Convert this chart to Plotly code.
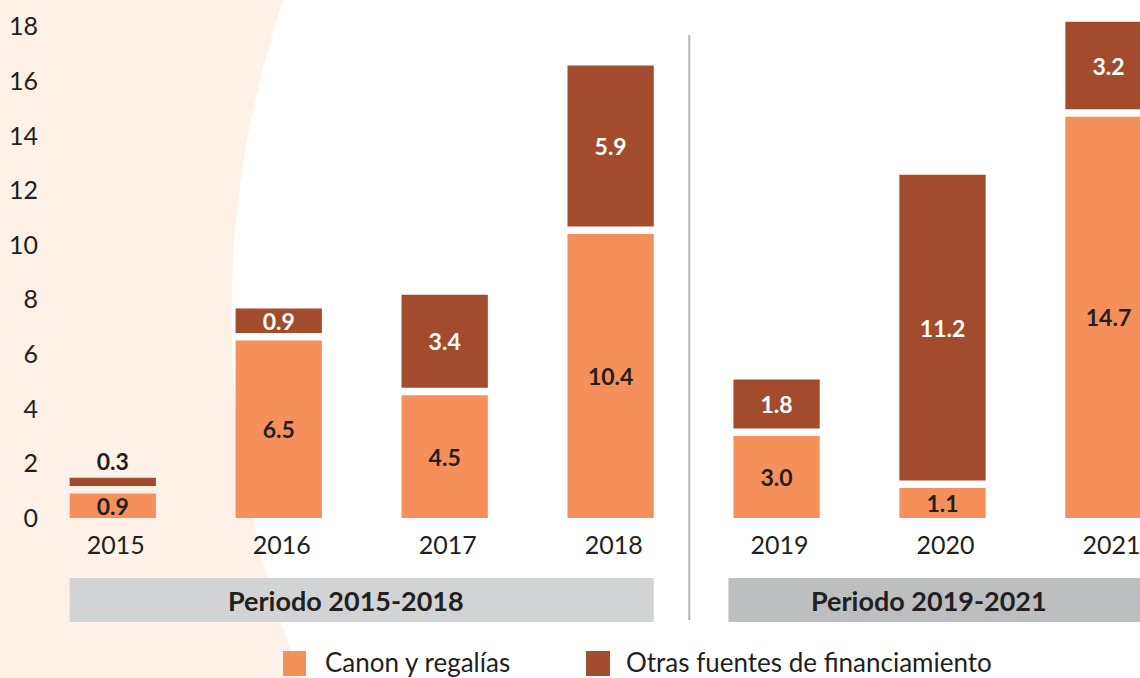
import plotly.graph_objects as go

# ---- data ----
years = ["2015", "2016", "2017", "2018", "2019", "2020", "2021"]
canon = [0.9, 6.5, 4.5, 10.4, 3.0, 1.1, 14.7]
otras = [0.3, 0.9, 3.4, 5.9, 1.8, 11.2, 3.2]
y_ticks = [0, 2, 4, 6, 8, 10, 12, 14, 16, 18]
periods = ["Periodo 2015-2018", "Periodo 2019-2021"]
legend_names = ["Canon y regalías", "Otras fuentes de financiamiento"]

# ---- style ----
W, H = 1140, 678
SCALE = 27.3  # px per unit
ML, MR, MT, MB = 63, 0, 8, 160
PW, PH = W - ML - MR, H - MT - MB
YMAX = PH / SCALE
GAP = 7.5 / SCALE
ORANGE = "#f5905a"
DARK = "#a34b2d"
TXT = "#231f20"
PALE = "#fef1e8"
FONT = "Lato"


def xp(px):
    return (px - ML) / PW


def yp(py):
    return (H - MB - py) / PH


fig = go.Figure()
fig.add_trace(go.Bar(
    x=years, y=canon, name=legend_names[0], marker=dict(color=ORANGE, line=dict(width=0)),
    width=0.52, text=[f"{v:.1f}" for v in canon], textposition="inside",
    insidetextanchor="middle", constraintext="none", textangle=0,
    insidetextfont=dict(color=TXT, size=23, family=FONT, weight="bold"),
    showlegend=False, hoverinfo="skip",
))
fig.add_trace(go.Bar(
    x=years, y=otras, base=[c + GAP for c in canon], name=legend_names[1],
    marker=dict(color=DARK, line=dict(width=0)), width=0.52,
    text=[f"{v:.1f}" for v in otras],
    textposition=["outside" if v < 0.5 else "inside" for v in otras],
    insidetextanchor="middle", constraintext="none", textangle=0,
    insidetextfont=dict(color="white", size=23, family=FONT, weight="bold"),
    outsidetextfont=dict(color=TXT, size=23, family=FONT, weight="bold"),
    showlegend=False, hoverinfo="skip", cliponaxis=False,
))

CX, CY, R = 1214, 314.5, 982.5
shapes = []
# big white circle over pale background
shapes.append(dict(type="circle", xref="paper", yref="paper", layer="below",
                   x0=xp(CX - R), x1=xp(CX + R), y0=yp(CY + R), y1=yp(CY - R),
                   fillcolor="white", line=dict(width=0)))
# period boxes
shapes.append(dict(type="rect", xref="x", yref="paper", x0=-0.26, x1=3.26,
                   y0=yp(622), y1=yp(578), fillcolor="#d1d3d4", line=dict(width=0)))
shapes.append(dict(type="rect", xref="x", yref="paper", x0=3.71, x1=6.6,
                   y0=yp(622), y1=yp(578), fillcolor="#bcbec0", line=dict(width=0)))
# divider
shapes.append(dict(type="line", xref="x", yref="paper", x0=3.474, x1=3.474,
                   y0=yp(620), y1=yp(35), line=dict(color="#b3b3b3", width=2)))
# legend squares
shapes.append(dict(type="rect", xref="paper", yref="paper", x0=xp(283), x1=xp(306),
                   y0=yp(676), y1=yp(651), fillcolor=ORANGE, line=dict(width=0)))
shapes.append(dict(type="rect", xref="paper", yref="paper", x0=xp(586), x1=xp(610),
                   y0=yp(676), y1=yp(651), fillcolor=DARK, line=dict(width=0)))

annotations = [
    dict(text=periods[0], xref="x", yref="paper", x=1.405, y=yp(600), showarrow=False,
         xanchor="center", yanchor="middle",
         font=dict(size=27, color=TXT, family=FONT, weight="bold")),
    dict(text=periods[1], xref="x", yref="paper", x=4.916, y=yp(600), showarrow=False,
         xanchor="center", yanchor="middle",
         font=dict(size=27, color=TXT, family=FONT, weight="bold")),
    dict(text=legend_names[0], xref="paper", yref="paper", x=xp(323), y=yp(662),
         xanchor="left", yanchor="middle", showarrow=False,
         font=dict(size=26, color=TXT, family=FONT)),
    dict(text=legend_names[1], xref="paper", yref="paper", x=xp(624), y=yp(662),
         xanchor="left", yanchor="middle", showarrow=False,
         font=dict(size=26, color=TXT, family=FONT)),
]

fig.update_layout(
    width=W, height=H, autosize=False,
    margin=dict(l=ML, r=MR, t=MT, b=MB, pad=0),
    paper_bgcolor=PALE, plot_bgcolor="rgba(0,0,0,0)",
    barmode="overlay", showlegend=False,
    shapes=shapes, annotations=annotations,
    font=dict(family=FONT, color=TXT),
)
fig.update_xaxes(type="category", range=[-0.3, 6.19], showgrid=False, zeroline=False,
                 showline=False, ticks="", tickfont=dict(size=25, color=TXT, family=FONT),
                 ticklabelstandoff=10, ticklabelshift=3, automargin=False)
fig.update_yaxes(range=[0, YMAX], tickvals=y_ticks, showgrid=False, zeroline=False,
                 showline=False, ticks="", tickfont=dict(size=25, color=TXT, family=FONT),
                 ticklabelstandoff=24, automargin=False)

fig.write_html("out.html", config={"displayModeBar": False},
               post_script="document.body.style.margin='0px';document.body.style.overflow='hidden';")
